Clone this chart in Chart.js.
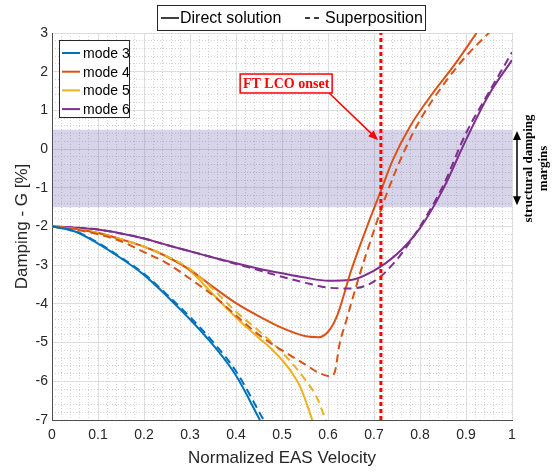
<!DOCTYPE html>
<html>
<head>
<meta charset="utf-8">
<script src="https://cdn.jsdelivr.net/npm/chart.js@4.4.0/dist/chart.umd.min.js"></script>
<style>
  body { margin: 0; background: #fff; }
  canvas { display: block; }
</style>
</head>
<body>
<canvas id="myChart" width="554" height="473"></canvas>
<script>
var modeNames = ['mode 3', 'mode 4', 'mode 5', 'mode 6'];
var modeColors = ['#0072BD', '#D95319', '#EDB120', '#7E2F8E'];
var styleNames = ['Direct solution', 'Superposition'];

// mode 3
var mode3DirectX = [0, 0.05, 0.1, 0.15, 0.2, 0.25, 0.3, 0.35, 0.4, 0.452];
var mode3DirectY = [-2, -2.13, -2.44, -2.82, -3.25, -3.8, -4.4, -5.06, -5.85, -7];
var mode3SuperX = [0, 0.05, 0.1, 0.15, 0.2, 0.25, 0.3, 0.35, 0.4, 0.46];
var mode3SuperY = [-2, -2.12, -2.42, -2.8, -3.22, -3.76, -4.34, -4.98, -5.74, -7];

// mode 4
var mode4DirectX = [0, 0.05, 0.1, 0.15, 0.2, 0.25, 0.3, 0.35, 0.4, 0.45, 0.5, 0.55, 0.58, 0.6, 0.62, 0.65, 0.685, 0.713, 0.741, 0.778, 0.828, 0.872, 0.923];
var mode4DirectY = [-2, -2.06, -2.17, -2.33, -2.52, -2.78, -3.12, -3.56, -3.98, -4.32, -4.62, -4.83, -4.86, -4.72, -4.3, -3.15, -2.0, -1.14, -0.28, 0.58, 1.45, 2.13, 3.0];
var mode4SuperX = [0, 0.05, 0.1, 0.15, 0.2, 0.25, 0.3, 0.35, 0.4, 0.45, 0.5, 0.55, 0.58, 0.605, 0.615, 0.625, 0.64, 0.67, 0.698, 0.728, 0.764, 0.8, 0.858, 0.9, 0.952];
var mode4SuperY = [-2, -2.08, -2.2, -2.38, -2.66, -2.95, -3.35, -3.78, -4.3, -4.8, -5.2, -5.56, -5.78, -5.87, -5.75, -5.05, -4.42, -3.2, -2.17, -1.14, -0.1, 0.75, 1.78, 2.4, 3.03];

// mode 5
var mode5DirectX = [0, 0.05, 0.1, 0.15, 0.2, 0.25, 0.3, 0.35, 0.4, 0.45, 0.48, 0.5, 0.52, 0.54, 0.566];
var mode5DirectY = [-2, -2.06, -2.17, -2.33, -2.52, -2.78, -3.14, -3.75, -4.35, -4.88, -5.2, -5.45, -5.75, -6.15, -7];
var mode5SuperX = [0, 0.05, 0.1, 0.15, 0.2, 0.25, 0.3, 0.35, 0.4, 0.45, 0.5, 0.55, 0.575, 0.595];
var mode5SuperY = [-2, -2.06, -2.17, -2.33, -2.52, -2.77, -3.1, -3.62, -4.2, -4.7, -5.25, -5.95, -6.4, -7];

// mode 6
var mode6DirectX = [0, 0.05, 0.1, 0.15, 0.2, 0.25, 0.3, 0.35, 0.4, 0.45, 0.5, 0.55, 0.6, 0.65, 0.7, 0.75, 0.8, 0.85, 0.9, 0.95, 1.0];
var mode6DirectY = [-2, -2.03, -2.08, -2.18, -2.31, -2.48, -2.64, -2.8, -2.95, -3.09, -3.21, -3.32, -3.4, -3.38, -3.14, -2.71, -2.04, -1.04, 0.24, 1.41, 2.3];
var mode6SuperX = [0, 0.05, 0.1, 0.15, 0.2, 0.25, 0.3, 0.35, 0.4, 0.45, 0.5, 0.55, 0.6, 0.65, 0.7, 0.75, 0.8, 0.85, 0.9, 0.95, 1.0];
var mode6SuperY = [-2, -2.03, -2.08, -2.18, -2.31, -2.48, -2.64, -2.8, -2.97, -3.13, -3.3, -3.45, -3.58, -3.6, -3.42, -2.85, -2.0, -0.95, 0.41, 1.47, 2.5];

// structural damping margin band and LCO onset line
var bandX = [0, 1];
var bandTop = [0.5, 0.5];
var bandBottom = [-1.5, -1.5];
var onsetX = [0.715, 0.715];
var onsetY = [-7, 3];

var xTickStep = 0.1;
var yTickStep = 1;

function toPoints(xs, ys) {
  var pts = [];
  for (var i = 0; i < xs.length; i++) {
    pts.push({x: xs[i], y: ys[i]});
  }
  return pts;
}

var directX = [mode3DirectX, mode4DirectX, mode5DirectX, mode6DirectX];
var directY = [mode3DirectY, mode4DirectY, mode5DirectY, mode6DirectY];
var superX = [mode3SuperX, mode4SuperX, mode5SuperX, mode6SuperX];
var superY = [mode3SuperY, mode4SuperY, mode5SuperY, mode6SuperY];

var datasets = [];
datasets.push({
  label: 'onset',
  data: toPoints(onsetX, onsetY),
  borderColor: '#ff0000',
  borderWidth: 3,
  borderDash: [4, 3],
  pointRadius: 0,
  order: 0
});
for (var i = 0; i < modeNames.length; i++) {
  datasets.push({
    label: modeNames[i],
    data: toPoints(directX[i], directY[i]),
    borderColor: modeColors[i],
    borderWidth: 2,
    pointRadius: 0,
    cubicInterpolationMode: 'monotone',
    order: 2
  });
  datasets.push({
    label: modeNames[i] + ' (superposition)',
    data: toPoints(superX[i], superY[i]),
    borderColor: modeColors[i],
    borderWidth: 2,
    borderDash: [8, 5],
    pointRadius: 0,
    cubicInterpolationMode: 'monotone',
    order: 1
  });
}
datasets.push({
  label: 'bandTop',
  data: toPoints(bandX, bandTop),
  borderWidth: 0,
  pointRadius: 0,
  fill: false,
  order: 5
});
datasets.push({
  label: 'bandBottom',
  data: toPoints(bandX, bandBottom),
  borderWidth: 0,
  pointRadius: 0,
  fill: '-1',
  backgroundColor: 'rgba(100, 90, 170, 0.26)',
  order: 6
});

var sansFont = "'Liberation Sans', Arial, Helvetica, sans-serif";
var serifFont = "'Liberation Serif', 'Times New Roman', serif";

var extras = {
  id: 'extras',
  afterDraw: function(chart) {
    var ctx = chart.ctx;
    var xs = chart.scales.x;
    var ys = chart.scales.y;
    var area = chart.chartArea;
    ctx.save();

    // FT LCO onset label + arrow
    var bx1 = xs.getPixelForValue(0.409), bx2 = xs.getPixelForValue(0.609);
    var by1 = ys.getPixelForValue(1.94), by2 = ys.getPixelForValue(1.45);
    ctx.fillStyle = '#fff';
    ctx.fillRect(bx1, by1, bx2 - bx1, by2 - by1);
    ctx.strokeStyle = '#ff0000';
    ctx.lineWidth = 1.5;
    ctx.strokeRect(bx1, by1, bx2 - bx1, by2 - by1);
    ctx.fillStyle = '#ff0000';
    ctx.font = 'bold 14px ' + serifFont;
    ctx.textAlign = 'center';
    ctx.textBaseline = 'middle';
    ctx.fillText('FT LCO onset', (bx1 + bx2) / 2, (by1 + by2) / 2 + 1);
    var ax1 = bx2 - 3, ay1 = by2;
    var ax2 = xs.getPixelForValue(0.709), ay2 = ys.getPixelForValue(0.23);
    var ang = Math.atan2(ay2 - ay1, ax2 - ax1);
    ctx.beginPath();
    ctx.moveTo(ax1, ay1);
    ctx.lineTo(ax2 - 8 * Math.cos(ang), ay2 - 8 * Math.sin(ang));
    ctx.lineWidth = 1.5;
    ctx.stroke();
    ctx.beginPath();
    ctx.moveTo(ax2, ay2);
    ctx.lineTo(ax2 - 10 * Math.cos(ang) + 4 * Math.sin(ang), ay2 - 10 * Math.sin(ang) - 4 * Math.cos(ang));
    ctx.lineTo(ax2 - 10 * Math.cos(ang) - 4 * Math.sin(ang), ay2 - 10 * Math.sin(ang) + 4 * Math.cos(ang));
    ctx.closePath();
    ctx.fill();

    // structural damping margins
    var mx = area.right + 5;
    var my1 = ys.getPixelForValue(0.47), my2 = ys.getPixelForValue(-1.45);
    ctx.strokeStyle = '#000';
    ctx.fillStyle = '#000';
    ctx.lineWidth = 1.5;
    ctx.beginPath();
    ctx.moveTo(mx, my1 + 6);
    ctx.lineTo(mx, my2 - 6);
    ctx.stroke();
    ctx.beginPath();
    ctx.moveTo(mx, my1); ctx.lineTo(mx - 4, my1 + 9); ctx.lineTo(mx + 4, my1 + 9); ctx.closePath();
    ctx.fill();
    ctx.beginPath();
    ctx.moveTo(mx, my2); ctx.lineTo(mx - 4, my2 - 9); ctx.lineTo(mx + 4, my2 - 9); ctx.closePath();
    ctx.fill();
    var cy = ys.getPixelForValue(-0.5);
    ctx.font = 'bold 13px ' + serifFont;
    ctx.textAlign = 'center';
    ctx.textBaseline = 'middle';
    ctx.save();
    ctx.translate(area.right + 17, cy);
    ctx.rotate(-Math.PI / 2);
    ctx.fillText('structural damping', 0, 0);
    ctx.restore();
    ctx.save();
    ctx.translate(area.right + 32, cy);
    ctx.rotate(-Math.PI / 2);
    ctx.fillText('margins', 0, 0);
    ctx.restore();

    // mode legend inside the axes
    var lx = area.left + 7, ly = area.top + 7;
    ctx.fillStyle = '#fff';
    ctx.fillRect(lx, ly, 70, 77);
    ctx.strokeStyle = '#262626';
    ctx.lineWidth = 1;
    ctx.strokeRect(lx + 0.5, ly + 0.5, 70, 77);
    ctx.font = '14px ' + sansFont;
    ctx.textAlign = 'left';
    for (var k = 0; k < modeNames.length; k++) {
      var rowY = ly + 13 + k * 18.7;
      ctx.strokeStyle = modeColors[k];
      ctx.lineWidth = 2;
      ctx.beginPath();
      ctx.moveTo(lx + 3, rowY);
      ctx.lineTo(lx + 21, rowY);
      ctx.stroke();
      ctx.fillStyle = '#000';
      ctx.fillText(modeNames[k], lx + 24, rowY + 1);
    }

    // style legend on top
    var tx = 157, ty = 5;
    ctx.fillStyle = '#fff';
    ctx.fillRect(tx, ty, 268, 25);
    ctx.strokeStyle = '#262626';
    ctx.lineWidth = 1;
    ctx.strokeRect(tx + 0.5, ty + 0.5, 268, 25);
    ctx.font = '16px ' + sansFont;
    ctx.strokeStyle = '#000';
    ctx.lineWidth = 1.5;
    ctx.beginPath();
    ctx.moveTo(tx + 4, ty + 13);
    ctx.lineTo(tx + 22, ty + 13);
    ctx.stroke();
    ctx.fillStyle = '#000';
    ctx.fillText(styleNames[0], tx + 23, ty + 14);
    ctx.setLineDash([5, 4]);
    ctx.beginPath();
    ctx.moveTo(tx + 148, ty + 13);
    ctx.lineTo(tx + 164, ty + 13);
    ctx.stroke();
    ctx.setLineDash([]);
    ctx.fillText(styleNames[1], tx + 168, ty + 14);

    ctx.restore();
  }
};

var ctx = document.getElementById('myChart').getContext('2d');
var myChart = new Chart(ctx, {
  type: 'line',
  data: { datasets: datasets },
  options: {
    responsive: false,
    animation: false,
    devicePixelRatio: 1,
    layout: { padding: { top: 33, right: 42, bottom: 0, left: 0 } },
    plugins: {
      legend: { display: false },
      tooltip: { enabled: false }
    },
    scales: {
      x: {
        type: 'linear',
        min: 0,
        max: 1,
        ticks: {
          stepSize: xTickStep,
          padding: 7,
          color: '#262626',
          font: { family: sansFont, size: 14 },
          callback: function(v) { return String(Math.round(v * 10) / 10); }
        },
        grid: { color: '#e2e2e2', drawTicks: false },
        border: { color: '#4d4d4d', width: 1 },
        title: {
          display: true,
          text: 'Normalized EAS Velocity',
          color: '#262626',
          font: { family: sansFont, size: 17 },
          padding: { top: 0, bottom: 4 }
        },
        afterFit: function(s) { s.height = 53; }
      },
      y: {
        type: 'linear',
        min: -7,
        max: 3,
        ticks: {
          stepSize: yTickStep,
          padding: 4,
          color: '#262626',
          font: { family: sansFont, size: 14 },
          callback: function(v) { return String(Math.round(v)); }
        },
        grid: { color: '#e2e2e2', drawTicks: false },
        border: { color: '#4d4d4d', width: 1 },
        title: {
          display: true,
          text: 'Damping - G [%]',
          color: '#262626',
          font: { family: sansFont, size: 17 },
          padding: { top: 12, bottom: 0 }
        },
        afterFit: function(s) { s.width = 52; }
      },
      xMinor: {
        type: 'linear',
        position: 'top',
        min: 0,
        max: 1,
        ticks: { display: false, stepSize: 0.02, autoSkip: false },
        grid: { color: '#d4d4d4', drawTicks: false },
        border: { display: false, dash: [1, 2] }
      },
      yMinor: {
        type: 'linear',
        position: 'right',
        min: -7,
        max: 3,
        ticks: { display: false, stepSize: 0.2, autoSkip: false },
        grid: { color: '#d4d4d4', drawTicks: false },
        border: { display: false, dash: [1, 2] }
      }
    }
  },
  plugins: [extras]
});
</script>
</body>
</html>
